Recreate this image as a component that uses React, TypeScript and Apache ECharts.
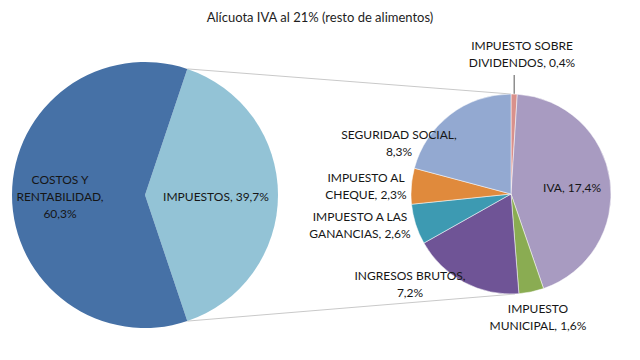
import React, { useEffect, useRef } from "react";
import * as echarts from "echarts";

const chartTitle = "Alícuota IVA al 21% (resto de alimentos)";

const mainNames = ["IMPUESTOS", "COSTOS Y\nRENTABILIDAD"];
const mainValues = [39.7, 60.3];
const mainSeps = [" ", "\n"];
const mainColors = ["#93c3d6", "#4671a6"];

const taxNames = [
  "IMPUESTO SOBRE\nDIVIDENDOS",
  "IVA",
  "IMPUESTO\nMUNICIPAL",
  "INGRESOS BRUTOS",
  "IMPUESTO A LAS\nGANANCIAS",
  "IMPUESTO AL\nCHEQUE",
  "SEGURIDAD SOCIAL",
];
const taxValues = [0.4, 17.4, 1.6, 7.2, 2.6, 2.3, 8.3];
const taxSeps = [" ", " ", " ", "\n", " ", " ", "\n"];
const taxColors = ["#d9918c", "#a89bc1", "#8aac52", "#6f5496", "#3d9ab2", "#e08a3c", "#93a9d1"];

// layout (positions of label blocks, centers)
const mainLabelPos = [
  [216, 196],
  [60, 196],
];
const taxLabelPos = [
  [522, 54],
  [572, 187],
  [538, 317],
  [410, 284],
  [360, 225],
  [366, 186],
  [399, 143],
];

const L = { cx: 145, cy: 195, r: 133 };
const R = { cx: 511, cy: 194, r: 100 };

const fmt = (v: number) => v.toFixed(1).replace(".", ",") + "%";

export default function App() {
  const ref = useRef<HTMLDivElement>(null);
  useEffect(() => {
    document.body.style.margin = "0";
    const chart = echarts.init(ref.current!, null, { renderer: "svg" });
    const mainTotal = mainValues.reduce((a, b) => a + b, 0);
    const taxTotal = taxValues.reduce((a, b) => a + b, 0);
    const half = ((mainValues[0] / mainTotal) * 360) / 2;
    const hr = (half * Math.PI) / 180;
    const lx = L.cx + L.r * Math.cos(hr);
    const lyTop = L.cy - L.r * Math.sin(hr);
    const lyBot = L.cy + L.r * Math.sin(hr);
    const divMid = (((taxValues[0] / taxTotal) * 360) / 2) * (Math.PI / 180);
    const divX = R.cx + R.r * Math.sin(divMid);
    const divY = R.cy - R.r * Math.cos(divMid);

    const font = { fontFamily: "Lato", fontSize: 12, color: "#161616", lineHeight: 17 };

    chart.setOption({
      animation: false,
      backgroundColor: "#ffffff",
      title: {
        text: chartTitle,
        left: "center",
        top: 5,
        textStyle: { fontFamily: "Lato", fontSize: 13, fontWeight: "normal", color: "#1e1e1e" },
      },
      graphic: [
        {
          type: "line",
          z: 0,
          shape: { x1: lx, y1: lyTop, x2: R.cx, y2: R.cy - R.r },
          style: { stroke: "#c9c9c9", lineWidth: 1 },
        },
        {
          type: "line",
          z: 0,
          shape: { x1: lx, y1: lyBot, x2: R.cx + 4, y2: R.cy + R.r },
          style: { stroke: "#c9c9c9", lineWidth: 1 },
        },
        {
          type: "line",
          z: 0,
          shape: { x1: divX, y1: divY, x2: divX, y2: R.cy - R.r - 19 },
          style: { stroke: "#555", lineWidth: 1 },
        },
      ],
      series: [
        {
          type: "pie",
          center: [L.cx, L.cy],
          radius: [0, L.r],
          startAngle: half,
          clockwise: true,
          label: {
            show: true,
            position: "inside",
            ...font,
            formatter: (p: any) => mainNames[p.dataIndex] + "," + mainSeps[p.dataIndex] + fmt(p.value),
          },
          labelLine: { show: false },
          labelLayout: (p: any) => ({
            x: mainLabelPos[p.dataIndex][0],
            y: mainLabelPos[p.dataIndex][1],
            align: "center",
            verticalAlign: "middle",
          }),
          emphasis: { disabled: true },
          data: mainValues.map((v, i) => ({
            value: v,
            name: mainNames[i],
            itemStyle: { color: mainColors[i] },
          })),
        },
        {
          type: "pie",
          center: [R.cx, R.cy],
          radius: [0, R.r],
          startAngle: 90,
          clockwise: true,
          itemStyle: { borderColor: "#ffffff", borderWidth: 0.5 },
          label: {
            show: true,
            position: "inside",
            ...font,
            formatter: (p: any) => taxNames[p.dataIndex] + "," + taxSeps[p.dataIndex] + fmt(p.value),
          },
          labelLine: { show: false },
          labelLayout: (p: any) => ({
            x: taxLabelPos[p.dataIndex][0],
            y: taxLabelPos[p.dataIndex][1],
            align: "center",
            verticalAlign: "middle",
          }),
          emphasis: { disabled: true },
          data: taxValues.map((v, i) => ({
            value: v,
            name: taxNames[i],
            itemStyle: { color: taxColors[i] },
          })),
        },
      ],
    });
    return () => chart.dispose();
  }, []);
  return (
    <div
      ref={ref}
      style={{ width: 640, height: 360, position: "absolute", left: 0, top: 0 }}
    />
  );
}
